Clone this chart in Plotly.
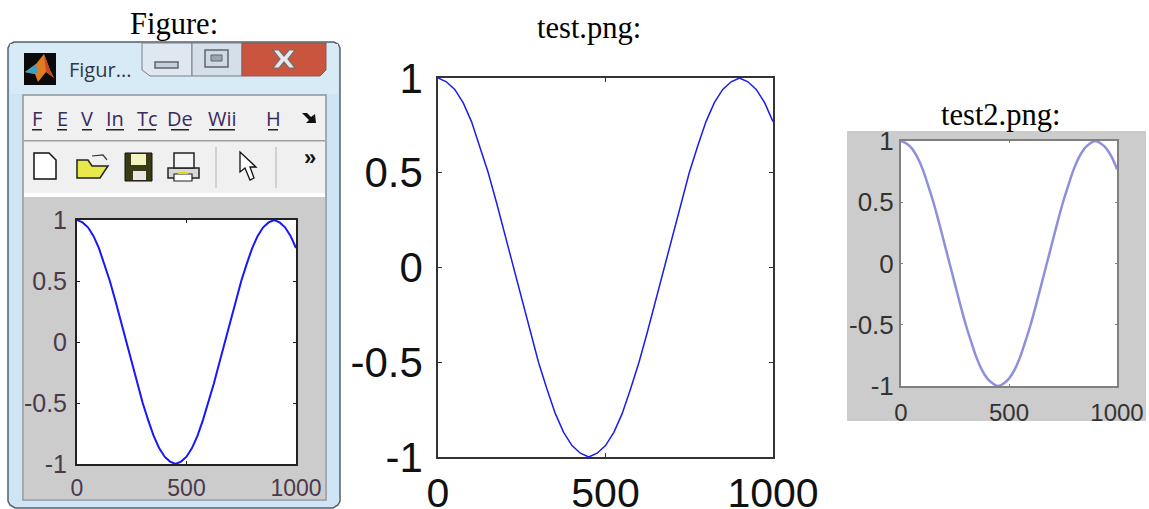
import plotly.graph_objects as go

W, H = 1149, 509

# ---- data (same curve in all three panels)
x_values = [0, 25, 50, 75, 100, 125, 150, 175, 200, 225, 250, 275, 300, 325, 350, 375, 400,
            425, 450, 475, 500, 525, 550, 575, 600, 625, 650, 675, 700, 725, 750, 775, 800,
            825, 850, 875, 900, 925, 950, 975, 1000]
y_values = [1.0, 0.98, 0.94, 0.87, 0.77, 0.64, 0.5, 0.34, 0.17, 0.0, -0.17, -0.34, -0.5, -0.64,
            -0.77, -0.87, -0.94, -0.98, -1.0, -0.98, -0.94, -0.87, -0.77, -0.64, -0.5, -0.34,
            -0.17, 0.0, 0.17, 0.34, 0.5, 0.64, 0.77, 0.87, 0.94, 0.98, 1.0, 0.98, 0.94, 0.87, 0.77]
x_ticks = [0, 500, 1000]
y_ticks = [-1, -0.5, 0, 0.5, 1]
y_tick_labels = ["-1", "-0.5", "0", "0.5", "1"]
titles = ["Figure:", "test.png:", "test2.png:"]
menu_items = ["F", "E", "V", "In", "Tc", "De", "Wii", "H"]
window_title = "Figur..."

# ---- helpers: pixels to paper
px = lambda v: v / W
py = lambda v: 1 - v / H
shapes, annotations = [], []

def rect(x0, y0, x1, y1, fill, line=None, lw=1):
    shapes.append(dict(type="rect", xref="paper", yref="paper", layer="below",
                       x0=px(x0), x1=px(x1), y0=py(y1), y1=py(y0), fillcolor=fill,
                       line=dict(color=line or fill, width=lw if line else 0)))

def poly(points, fill="rgba(0,0,0,0)", line=None, lw=1, close=True):
    d = "M " + " L ".join(f"{px(a):.5f},{py(b):.5f}" for a, b in points) + (" Z" if close else "")
    shapes.append(dict(type="path", xref="paper", yref="paper", layer="below", path=d,
                       fillcolor=fill, line=dict(color=line or "rgba(0,0,0,0)", width=lw if line else 0)))

def text(x, y, s, size, color="black", family="Liberation Sans", anchor="center"):
    annotations.append(dict(xref="paper", yref="paper", x=px(x), y=py(y), text=s, showarrow=False,
                            xanchor=anchor, yanchor="middle", align="left",
                            font=dict(size=size, color=color, family=family)))

# ---- window chrome
poly([(14, 42), (334, 42), (338, 44), (340, 48), (340, 501), (338, 505), (333, 508), (15, 508),
      (10, 505), (8, 501), (8, 48), (10, 44)],
     fill="#cfe5f6", line="#55626e", lw=1.5)
rect(10, 44, 338, 94, "#d9eaf7")
rect(23, 95, 326, 500, "#f0f0f0", "#8e9499", 1.5)
rect(24, 140, 325, 141.5, "#a0a0a0")
rect(24, 193, 325, 197, "#ffffff")
rect(24, 197, 325, 499, "#cccccc")

# title buttons
poly([(142, 43), (192, 43), (192, 76), (150, 76), (142, 70)], fill="#dfe8f1", line="#77818b")
poly([(192, 43), (242, 43), (242, 76), (192, 76)], fill="#d5dfe9", line="#77818b")
poly([(242, 43), (326, 43), (326, 70), (320, 76), (242, 76)], fill="#c9553f", line="#8a5552")
rect(155, 62, 178, 68, "#c6d0da", "#5d6670", 1.5)
rect(205, 50, 228, 67, "#cfd9e3", "#5d6670", 1.5)
rect(211, 55, 222, 61, "#9aa5b0", "#5d6670", 1)
poly([(273, 50), (279, 50), (284, 56), (289, 50), (295, 50), (288, 59), (295, 68), (289, 68),
      (284, 62), (279, 68), (273, 68), (280, 59)], fill="#e8e8ea", line="#6f6c70", lw=1.2)

# app logo
rect(24, 53, 56, 85, "#0a0a0a")
poly([(25, 72), (36, 64), (44, 54), (50, 70), (54, 78), (46, 72), (38, 82), (35, 74)], fill="#e07b22")
poly([(25, 72), (36, 64), (38, 72), (34, 74)], fill="#3aa0c4")
poly([(44, 54), (50, 70), (54, 78), (46, 72)], fill="#c9491f")
text(67, 70, window_title, 20, "#2b3a4a", "Open Sans", "left")

# menu
menu_x = [37, 62, 87, 115, 147, 180, 222, 273]
for mx, item in zip(menu_x, menu_items):
    text(mx, 118, item, 20, "#3b2a5e", "Open Sans")
    half = 5 + 4 * (len(item) - 1)
    rect(mx - half, 129, mx + half, 130.5, "#222222")
poly([(302, 113), (307, 113), (311, 117), (315, 114), (316, 123), (306, 123), (309, 120)], fill="#111111")

# toolbar icons
poly([(34, 153), (49, 153), (56, 160), (56, 179), (34, 179)], fill="white", line="#111111", lw=1.5)
poly([(77, 160), (88, 160), (92, 166), (108, 166), (100, 178), (77, 178)], fill="#e8e84a", line="#222222", lw=1.5)
poly([(92, 156), (103, 155), (107, 160)], line="#333333", lw=1.2, close=False)
rect(125, 153, 152, 181, "#3a3a14", "#111111", 1)
rect(131, 154, 146, 165, "#f3f3c0")
rect(133, 171, 146, 180, "#e8e8e8")
rect(168, 168, 199, 178, "#d8d8d8", "#222222", 1.5)
rect(174, 153, 194, 168, "#f4f4f4", "#222222", 1.5)
rect(174, 174, 192, 181, "#ffffff", "#222222", 1.2)
rect(178, 172, 188, 174, "#e6d820")
rect(215.5, 147, 216.5, 188, "#b0b0b0")
poly([(240, 152), (240, 172), (245, 168), (250, 180), (254, 178), (250, 167), (256, 167)],
     fill="white", line="#111111", lw=1.3)
rect(275.5, 147, 276.5, 188, "#b0b0b0")
text(310, 157, "<b>»</b>", 22, "#111111", "Liberation Sans")

# ---- backdrop of third panel and the plot areas
rect(847, 131, 1146, 421, "#cccccc")
panels = [
    dict(box=(77, 220, 296, 464), line="#1616ff", lw=2, shape="linear", frame="#222222", fw=2, xsize=23, ysize=25,
         tcol="#4a3a4a", ticklen=3, xoff=2, yoff=3),
    dict(box=(438, 78, 773, 457), line="#1c1ce8", lw=1.5, shape="linear", frame="#333333", fw=1.5, xsize=41, ysize=42,
         tcol="#111111", ticklen=4, xoff=-1, yoff=5),
    dict(box=(901, 141, 1117, 386), line="#8f8fdc", lw=2.5, shape="spline", frame="#808080", fw=2, xsize=24, ysize=26,
         tcol="#333333", ticklen=2, xoff=4, yoff=0),
]

fig = go.Figure()
for i, p in enumerate(panels, start=1):
    x0, y0, x1, y1 = p["box"]
    rect(x0, y0, x1, y1, "white")
    xname = "x" if i == 1 else f"x{i}"
    yname = "y" if i == 1 else f"y{i}"
    fig.add_trace(go.Scatter(x=x_values, y=y_values, mode="lines", xaxis=xname, yaxis=yname,
                             line=dict(color=p["line"], width=p["lw"], shape=p["shape"]),
                             hoverinfo="skip", showlegend=False))
    common = dict(showgrid=False, zeroline=False, showline=True, mirror="ticks", ticks="inside",
                  automargin=False, ticklen=p["ticklen"], tickcolor=p["frame"], tickwidth=1,
                  linecolor=p["frame"], linewidth=p["fw"])
    fig.layout[("xaxis" if i == 1 else f"xaxis{i}")] = dict(
        domain=[px(x0), px(x1)], range=[0, 1000], anchor=yname, tickvals=x_ticks,
        ticklabelstandoff=p["xoff"],
        tickfont=dict(size=p["xsize"], color=p["tcol"], family="Liberation Sans"), **common)
    fig.layout[("yaxis" if i == 1 else f"yaxis{i}")] = dict(
        domain=[py(y1), py(y0)], range=[-1, 1], anchor=xname, tickvals=y_ticks,
        ticktext=y_tick_labels, ticklabelstandoff=p["yoff"],
        tickfont=dict(size=p["ysize"], color=p["tcol"], family="Liberation Sans"), **common)

# ---- captions
for (cx, cy), t in zip([(174, 24), (589, 28), (1000, 115)], titles):
    text(cx, cy, t, 30.5, "black", "Liberation Serif")

fig.update_layout(width=W, height=H, autosize=False, margin=dict(l=0, r=0, t=0, b=0),
                  paper_bgcolor="white", plot_bgcolor="rgba(0,0,0,0)",
                  shapes=shapes, annotations=annotations)
fig.write_html("out.html", config=dict(displayModeBar=False),
               post_script="document.body.style.margin='0';")
